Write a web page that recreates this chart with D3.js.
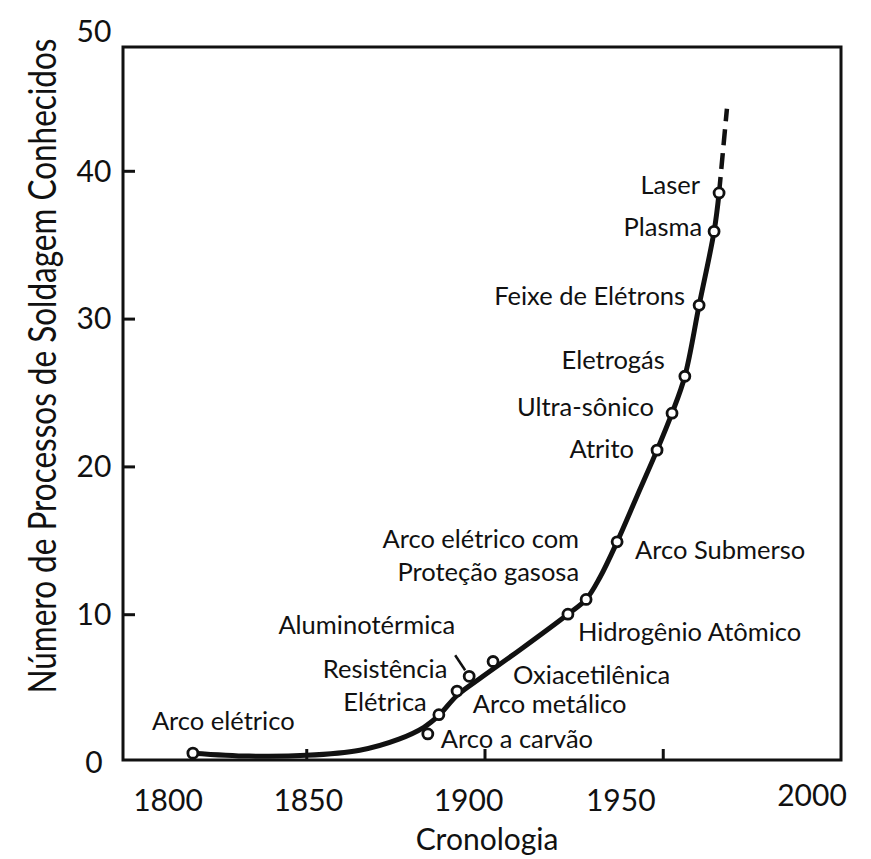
<!DOCTYPE html>
<html>
<head>
<meta charset="utf-8">
<script src="https://cdn.jsdelivr.net/npm/d3@7"></script>
<style>
  body { margin: 0; background: #fff; }
  text { font-family: Lato, "Open Sans", sans-serif; fill: #111; }
</style>
</head>
<body>
<div id="chart"></div>
<script>
// size of svg
const width = 871; const height = 859;
// frame of the plot
const frame = {left: 123, right: 841, top: 47, bottom: 760};

// trend curve: year and number of known welding processes
const curveYears  = [1818.2, 1834, 1850, 1865, 1876, 1883, 1887.2, 1892.3, 1898.7, 1910, 1923.4, 1928.5, 1932.4, 1937.2, 1942.8, 1948.4, 1952.6, 1956.2, 1960.2, 1964.4, 1965.8];
const curveCounts = [0.6, 0.4, 0.45, 0.8, 1.55, 2.35, 3.15, 4.5, 5.65, 7.6, 10.0, 11.0, 12.5, 14.9, 18.0, 21.1, 23.6, 26.1, 30.9, 35.9, 38.5];
// dashed extrapolation after the last process
const dashYears  = [1965.8, 1968.0];
const dashCounts = [38.5, 44.2];

// marked processes
const procNames  = ['Arco elétrico', 'Arco a carvão', 'Arco metálico', 'Resistência|Elétrica', 'Aluminotérmica',
                    'Oxiacetilênica', 'Hidrogênio Atômico', 'Arco elétrico com|Proteção gasosa', 'Arco Submerso',
                    'Atrito', 'Ultra-sônico', 'Eletrogás', 'Feixe de Elétrons', 'Plasma', 'Laser'];
const procYears  = [1818.2, 1884.1, 1887.2, 1892.3, 1895.7, 1902.4, 1923.4, 1928.5, 1937.2, 1948.4, 1952.6, 1956.2, 1960.2, 1964.4, 1965.8];
const procCounts = [0.6, 1.9, 3.2, 4.8, 5.8, 6.8, 10.0, 11.0, 14.9, 21.1, 23.6, 26.1, 30.9, 35.9, 38.5];

// axes
const xTicks = [1800, 1850, 1900, 1950, 2000];
const yTicks = [0, 10, 20, 30, 40, 50];
const xTitle = 'Cronologia';
const yTitle = 'Número de Processos de Soldagem Conhecidos';

// label placement around each point (layout only)
const labelLayout = {
    'Arco elétrico':      {dx: -41, dy: -23, anchor: 'start'},
    'Arco a carvão':      {dx: 13,  dy: 14,  anchor: 'start'},
    'Arco metálico':      {dx: 34,  dy: -2,  anchor: 'start'},
    'Resistência|Elétrica': {dx: -72, dy: -13, anchor: 'middle'},
    'Aluminotérmica':     {dx: -14, dy: -42, anchor: 'end'},
    'Oxiacetilênica':     {dx: 20,  dy: 23,  anchor: 'start'},
    'Hidrogênio Atômico': {dx: 10,  dy: 27,  anchor: 'start'},
    'Arco elétrico com|Proteção gasosa': {dx: -7, dy: -51, anchor: 'end'},
    'Arco Submerso':      {dx: 18,  dy: 17,  anchor: 'start'},
    'Atrito':             {dx: -23, dy: 8,   anchor: 'end'},
    'Ultra-sônico':       {dx: -18, dy: 3,   anchor: 'end'},
    'Eletrogás':          {dx: -20, dy: -7,  anchor: 'end'},
    'Feixe de Elétrons':  {dx: -14, dy: 0,   anchor: 'end'},
    'Plasma':             {dx: -12, dy: 5,   anchor: 'end'},
    'Laser':              {dx: -19, dy: 1,   anchor: 'end'}
};
// the tick labels of the scan sit a bit off their ticks
const xLabelNudge = {1800: 40, 1850: 2, 1900: -16, 1950: -42, 2000: -29};

const svg = d3.select('#chart')
    .append('svg')
        .attr('width', width)
        .attr('height', height);

const xScale = d3.scaleLinear()
    .domain([1800, 2000])
    .range([128, 841]);
const yScale = d3.scaleLinear()
    .domain([0, 50])
    .range([762, 23]);

// frame
svg.append('rect')
    .attr('x', frame.left)
    .attr('y', frame.top)
    .attr('width', frame.right - frame.left)
    .attr('height', frame.bottom - frame.top)
    .attr('fill', 'none')
    .attr('stroke', '#111')
    .attr('stroke-width', 3);

// y axis: ticks pointing inwards, labels centred left of the frame
const yAxis = svg.append('g')
    .attr('transform', `translate(${frame.left}, 0)`)
    .call(d3.axisRight(yScale).tickValues(yTicks.filter(d => d > 0 && d < 50)).tickSize(12).tickFormat(''));
yAxis.select('.domain').remove();
yAxis.selectAll('line').attr('stroke', '#111').attr('stroke-width', 3);

svg.append('g')
    .selectAll('text')
    .data(yTicks)
    .enter()
    .append('text')
        .attr('x', 94)
        .attr('y', d => d === 50 ? yScale(d) + 8 : yScale(d))
        .attr('dy', '0.36em')
        .attr('text-anchor', 'middle')
        .style('font-size', '30px')
        .text(d => d);

// x axis: ticks pointing up
const xAxis = svg.append('g')
    .attr('transform', `translate(0, ${frame.bottom})`)
    .call(d3.axisTop(xScale).tickValues(xTicks.filter(d => d > 1800 && d < 2000)).tickSize(11).tickFormat(''));
xAxis.select('.domain').remove();
xAxis.selectAll('line').attr('stroke', '#111').attr('stroke-width', 3);

svg.append('g')
    .selectAll('text')
    .data(xTicks)
    .enter()
    .append('text')
        .attr('x', d => xScale(d) + xLabelNudge[d])
        .attr('y', d => d === 2000 ? 806 : 811)
        .attr('text-anchor', 'middle')
        .style('font-size', '30px')
        .text(d => d);

// axis titles
svg.append('text')
    .attr('x', 487)
    .attr('y', 850)
    .attr('text-anchor', 'middle')
    .style('font-size', '30px')
    .text(xTitle);

// the scan is stretched sideways, so the vertical title looks condensed
svg.append('text')
    .attr('transform', 'translate(56, 366) scale(1.25, 1) rotate(-90)')
    .attr('text-anchor', 'middle')
    .style('font-size', '31.5px')
    .text(yTitle);

// curve
const line = d3.line()
    .x(d => xScale(d[0]))
    .y(d => yScale(d[1]))
    .curve(d3.curveCatmullRom.alpha(0.5));

svg.append('path')
    .datum(curveYears.map((yr, i) => [yr, curveCounts[i]]))
    .attr('d', line)
    .attr('fill', 'none')
    .attr('stroke', '#111')
    .attr('stroke-width', 5)
    .attr('stroke-linecap', 'round');

svg.append('path')
    .datum(dashYears.map((yr, i) => [yr, dashCounts[i]]))
    .attr('d', d3.line().x(d => xScale(d[0])).y(d => yScale(d[1])))
    .attr('fill', 'none')
    .attr('stroke', '#111')
    .attr('stroke-width', 4.5)
    .attr('stroke-dasharray', '16,8');

// points
const procs = procNames.map((name, i) => ({name: name, year: procYears[i], count: procCounts[i]}));

svg.append('g')
    .selectAll('circle')
    .data(procs)
    .enter()
    .append('circle')
        .attr('cx', d => xScale(d.year))
        .attr('cy', d => yScale(d.count))
        .attr('r', 5)
        .attr('fill', '#fff')
        .attr('stroke', '#111')
        .attr('stroke-width', 2.8);

// leader for Aluminotérmica
const alu = procs.find(d => d.name === 'Aluminotérmica');
svg.append('line')
    .attr('x1', xScale(alu.year) - 14)
    .attr('y1', yScale(alu.count) - 21)
    .attr('x2', xScale(alu.year) - 4)
    .attr('y2', yScale(alu.count) - 6)
    .attr('stroke', '#111')
    .attr('stroke-width', 2.5);

// labels
svg.append('g')
    .selectAll('text')
    .data(procs)
    .enter()
    .append('text')
        .each(function(d) {
            const lay = labelLayout[d.name];
            const t = d3.select(this)
                .attr('x', xScale(d.year) + lay.dx)
                .attr('y', yScale(d.count) + lay.dy)
                .attr('text-anchor', lay.anchor)
                .style('font-size', '25.5px');
            d.name.split('|').forEach((part, i) => {
                t.append('tspan')
                    .attr('x', xScale(d.year) + lay.dx)
                    .attr('dy', i === 0 ? 0 : 33)
                    .text(part);
            });
        });
</script>
</body>
</html>
